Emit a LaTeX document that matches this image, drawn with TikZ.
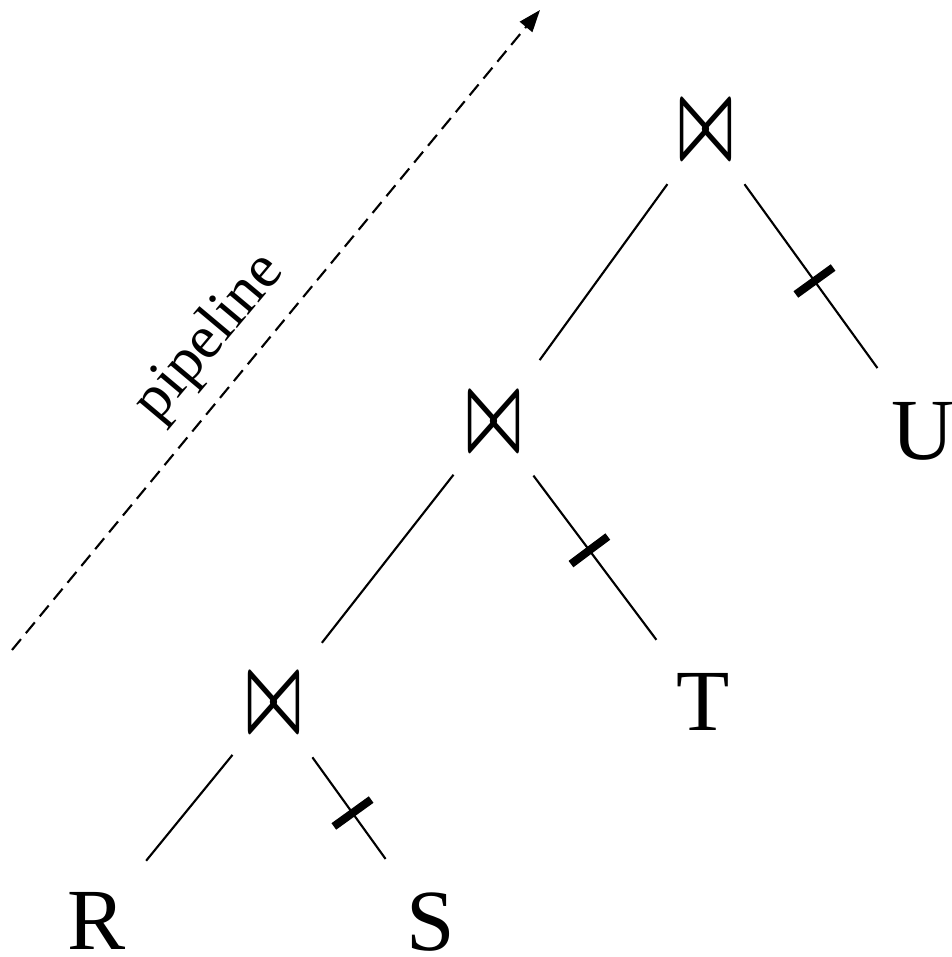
\documentclass[tikz,border=0pt]{standalone}
\usepackage{fontspec}
\usepackage{graphicx}
\setmainfont{Liberation Serif}
\usetikzlibrary{arrows.meta}

\newcommand{\joinsym}{\resizebox{0.55cm}{0.53cm}{\boldmath$\bowtie$}}

\begin{document}
\begin{tikzpicture}[
  joinop/.style={circle, minimum size=1.3cm, inner sep=0pt},
  rel/.style={circle, minimum size=1.3cm, inner sep=0pt, font=\fontsize{24.8}{30}\selectfont},
  treeedge/.style={line width=0.6pt, shorten >=0.12cm},
  breaker/.style={rectangle, fill=black, minimum width=0.08cm, minimum height=0.46cm, inner sep=0pt}
]
\useasboundingbox (0,0) rectangle (9.52,9.57);

% Nodes
\node[joinop] (J3) at (7.06,8.26) {\joinsym};
\node[joinop] (J2) at (4.94,5.34) {\joinsym};
\node[joinop] (J1) at (2.74,2.53) {\joinsym};
\node[rel] (R) at (0.97,0.36) {R};
\node[rel] (S) at (4.31,0.35) {S};
\node[rel] (T) at (7.03,2.55) {T};
\node[rel] (U) at (9.23,5.26) {U};

% Edges
\draw[treeedge] (J3) -- (J2);
\draw[treeedge] (J3) -- (U) node[pos=0.5, sloped, breaker] {};
\draw[treeedge] (J2) -- (J1);
\draw[treeedge] (J2) -- (T) node[pos=0.43, sloped, breaker] {};
\draw[treeedge] (J1) -- (R);
\draw[treeedge] (J1) -- (S) node[pos=0.5, sloped, breaker] {};

% Pipeline arrow
\coordinate (P0) at (0.12,3.07);
\coordinate (P1) at (5.40,9.47);
\draw[line width=0.6pt, dash pattern=on 4pt off 2.2pt, -{Triangle[length=2.2mm,width=1.6mm]}] (P0) -- (P1);
\node[rotate=50, font=\fontsize{17.5}{20}\selectfont] (pipe) at (2.10,6.19) {pipeline};

\end{tikzpicture}
\end{document}
